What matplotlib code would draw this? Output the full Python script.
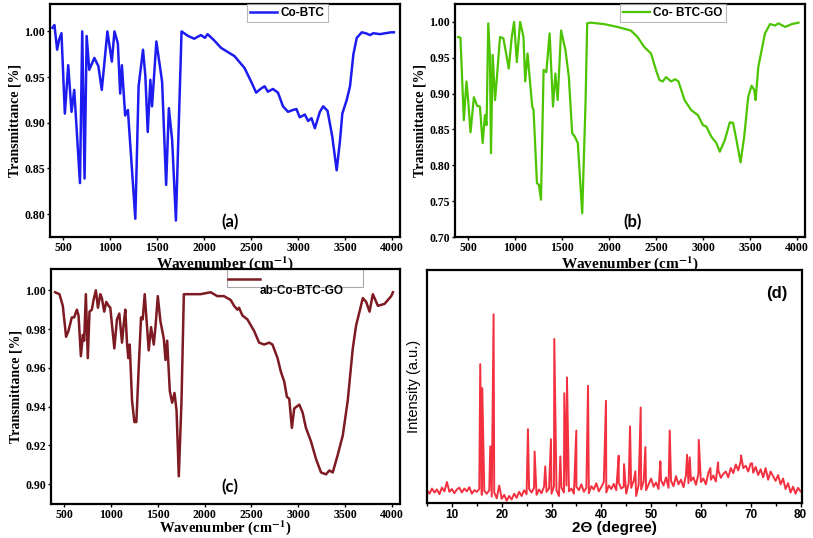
import numpy as np
import matplotlib
matplotlib.use("Agg")
import matplotlib.pyplot as plt
from matplotlib.patches import Rectangle

# FTIR (a) Co-BTC
co_btc_wn = [386, 407, 436, 457, 482, 518, 554, 589, 618, 643, 679, 703, 728, 750, 778, 832,
             875, 911, 971, 1018, 1046, 1082, 1107, 1125, 1160, 1189, 1268, 1303, 1350, 1375,
             1400, 1428, 1446, 1492, 1553, 1596, 1625, 1660, 1700, 1760, 1830, 1895, 1966, 2009,
             2037, 2109, 2180, 2323, 2430, 2501, 2554, 2600, 2644, 2679, 2733, 2786, 2840, 2893,
             2945, 2983, 3018, 3072, 3107, 3143, 3179, 3232, 3268, 3314, 3364, 3411, 3446, 3471,
             3518, 3553, 3589, 3625, 3678, 3720, 3767, 3800, 3874, 3928, 3990, 4020]
co_btc_t = [1.004, 1.007, 0.980, 0.991, 0.998, 0.910, 0.963, 0.912, 0.936, 0.894, 0.834, 1.000,
            0.839, 0.995, 0.958, 0.971, 0.962, 0.936, 1.000, 0.967, 1.000, 0.987, 0.932, 0.963,
            0.908, 0.914, 0.795, 0.940, 0.980, 0.951, 0.890, 0.947, 0.918, 0.989, 0.945, 0.832,
            0.916, 0.881, 0.793, 1.000, 0.995, 0.992, 0.996, 0.993, 0.997, 0.990, 0.982, 0.973,
            0.960, 0.945, 0.933, 0.937, 0.940, 0.934, 0.937, 0.933, 0.918, 0.912, 0.914, 0.915,
            0.906, 0.909, 0.902, 0.905, 0.894, 0.912, 0.918, 0.913, 0.885, 0.848, 0.880, 0.910,
            0.925, 0.940, 0.975, 0.993, 0.999, 0.998, 0.996, 0.998, 0.997, 0.998, 0.999, 0.999]

# FTIR (b) Co-BTC-GO
co_btc_go_wn = [393, 418, 454, 482, 500, 525, 561, 596, 625, 654, 679, 696, 714, 732, 743, 761,
                786, 804, 839, 875, 911, 932, 964, 989, 1018, 1053, 1089, 1107, 1132, 1160, 1182,
                1196, 1232, 1253, 1275, 1303, 1332, 1367, 1403, 1428, 1453, 1489, 1535, 1571,
                1607, 1635, 1667, 1714, 1750, 1767, 1803, 1946, 2089, 2231, 2303, 2374, 2446,
                2499, 2535, 2571, 2606, 2660, 2703, 2738, 2803, 2874, 2945, 2999, 3035, 3088,
                3142, 3178, 3231, 3285, 3320, 3356, 3399, 3438, 3481, 3517, 3545, 3559, 3588,
                3624, 3659, 3713, 3767, 3802, 3874, 3945, 4016]
co_btc_go_t = [0.979, 0.978, 0.863, 0.917, 0.891, 0.846, 0.895, 0.883, 0.882, 0.831, 0.870, 0.856,
               0.998, 0.951, 0.817, 0.954, 0.891, 0.919, 0.979, 0.977, 0.951, 0.935, 0.979, 1.000,
               0.944, 1.000, 0.979, 0.917, 0.956, 0.914, 0.882, 0.877, 0.775, 0.773, 0.752, 0.933,
               0.930, 0.984, 0.882, 0.928, 0.891, 0.988, 0.961, 0.924, 0.845, 0.840, 0.831, 0.733,
               0.891, 0.998, 0.999, 0.997, 0.993, 0.988, 0.979, 0.965, 0.956, 0.933, 0.919, 0.917,
               0.923, 0.917, 0.920, 0.917, 0.891, 0.877, 0.870, 0.856, 0.854, 0.840, 0.831, 0.819,
               0.835, 0.860, 0.859, 0.835, 0.804, 0.840, 0.896, 0.911, 0.905, 0.891, 0.937, 0.961,
               0.984, 0.997, 0.995, 0.998, 0.993, 0.997, 0.999]

# FTIR (c) ab-Co-BTC-GO
ab_wn = [404, 450, 486, 521, 546, 582, 607, 636, 654, 679, 700, 714, 732, 753, 771, 796, 814,
         839, 861, 886, 903, 928, 950, 975, 993, 1036, 1064, 1089, 1118, 1135, 1153, 1171, 1185,
         1200, 1225, 1250, 1271, 1296, 1321, 1339, 1360, 1378, 1403, 1428, 1457, 1475, 1500,
         1528, 1564, 1582, 1600, 1628, 1653, 1678, 1700, 1724, 1753, 1778, 1796, 1867, 1957,
         2064, 2135, 2206, 2278, 2314, 2349, 2367, 2403, 2456, 2528, 2581, 2635, 2688, 2724,
         2778, 2813, 2849, 2878, 2903, 2931, 2956, 3010, 3045, 3081, 3135, 3188, 3242, 3295,
         3331, 3367, 3420, 3474, 3527, 3581, 3617, 3653, 3688, 3724, 3760, 3795, 3849, 3920,
         3991, 4010]
ab_t = [0.999, 0.998, 0.992, 0.976, 0.979, 0.986, 0.986, 0.990, 0.987, 0.966, 0.977, 0.974,
        0.998, 0.965, 0.989, 0.990, 0.995, 1.000, 0.991, 0.998, 0.996, 0.989, 0.994, 0.992,
        0.991, 0.970, 0.985, 0.988, 0.973, 0.982, 0.990, 0.973, 0.965, 0.972, 0.943, 0.932,
        0.932, 0.960, 0.986, 0.985, 0.998, 0.986, 0.969, 0.981, 0.972, 0.981, 0.997, 0.984,
        0.975, 0.964, 0.974, 0.948, 0.942, 0.947, 0.938, 0.904, 0.943, 0.998, 0.998, 0.998,
        0.998, 0.999, 0.997, 0.997, 0.995, 0.992, 0.990, 0.991, 0.987, 0.985, 0.979, 0.973,
        0.972, 0.973, 0.972, 0.965, 0.958, 0.953, 0.945, 0.944, 0.929, 0.939, 0.941, 0.937,
        0.929, 0.922, 0.913, 0.906, 0.905, 0.907, 0.906, 0.915, 0.925, 0.943, 0.970, 0.982,
        0.989, 0.996, 0.994, 0.989, 0.998, 0.992, 0.993, 0.997, 0.999]

# XRD (d): noisy background every 0.5 deg from 5 to 80, plus sharp reflections
xrd_bg_start = 5.0
xrd_bg_step = 0.5
xrd_bg = [55, 40, 62, 45, 58, 38, 66, 50, 90, 48,
          60, 42, 58, 66, 45, 62, 50, 68, 40, 55,
          48, 60, 35, 52, 40, 55, 28, 45, 20, 75,
          18, 35, 10, 30, 15, 40, 22, 48, 30, 55,
          38, 60, 45, 65, 35, 58, 42, 70, 48, 62,
          40, 72, 55, 30, 66, 45, 75, 50, 62, 40,
          70, 55, 80, 48, 65, 42, 72, 58, 85, 50,
          68, 90, 45, 75, 60, 82, 55, 88, 62, 70,
          40, 85, 65, 95, 30, 78, 58, 92, 55, 80,
          105, 70, 88, 60, 98, 75, 110, 65, 95, 72,
          115, 80, 100, 68, 120, 85, 95, 110, 78, 125,
          90, 105, 80, 130, 100, 118, 92, 140, 108, 125,
          135, 110, 150, 128, 165, 140, 180, 150, 160, 135,
          170, 130, 155, 120, 145, 110, 150, 100, 135, 115,
          95, 120, 80, 105, 60, 85, 45, 70, 40, 65,
          50]
xrd_peak_pos = [15.69, 16.1, 17.7, 18.37, 25.27, 26.61, 28.75, 29.89, 30.56, 31.77, 32.57,
                33.11, 34.98, 37.33, 40.94, 43.49, 44.56, 45.77, 46.84, 47.91, 48.85, 51.86,
                53.74, 57.22, 57.76, 59.57, 61.91, 63.45, 68.07, 70.28]
xrd_peak_int = [596, 493, 243, 810, 317, 221, 157, 274, 704, 200, 471,
                539, 311, 503, 439, 203, 167, 329, 136, 410, 240, 179,
                311, 207, 196, 271, 150, 174, 204, 170]

serif = "Liberation Serif"
sans = "Liberation Sans"
plt.rcParams["mathtext.fontset"] = "stix"


def ftir_panel(ax, wn, t, color, yticks, ylim, tag, lw=1.8, xl_size=11, xl_y=-0.112):
    ax.plot(wn, t, color=color, linewidth=lw)
    ax.set_xlim(360, 4085)
    ax.set_ylim(*ylim)
    ax.set_xticks([500, 1000, 1500, 2000, 2500, 3000, 3500, 4000])
    ax.set_yticks(yticks)
    ax.set_yticklabels(["%.2f" % v for v in yticks])
    for lab in ax.get_xticklabels() + ax.get_yticklabels():
        lab.set_fontfamily(serif)
        lab.set_fontweight("bold")
        lab.set_fontsize(8.5)
    ax.tick_params(direction="out", length=2.5, width=1, pad=1)
    for s in ax.spines.values():
        s.set_linewidth(1.6)
    ax.set_xlabel(r"Wavenumber (cm$^{\mathbf{-1}}$)", fontfamily=serif, fontweight="bold",
                  fontsize=xl_size, va="center")
    ax.xaxis.set_label_coords(0.5, xl_y)
    ax.set_ylabel("Transmittance [%]", fontfamily=serif, fontweight="bold", fontsize=10,
                  labelpad=2)
    ax.text(tag[1], tag[2], tag[0], transform=ax.transAxes, fontfamily="Lato",
            fontweight="bold", fontsize=12, ha="center", va="center")


fig = plt.figure(figsize=(8.13, 5.38), dpi=100)
W, H = 813, 538

ax_a = fig.add_axes([50 / W, 1 - 237 / H, 350 / W, 233 / H])
ax_b = fig.add_axes([455 / W, 1 - 237 / H, 350 / W, 233 / H])
ax_c = fig.add_axes([51 / W, 1 - 504 / H, 349 / W, 235 / H])
ax_d = fig.add_axes([427 / W, 1 - 503 / H, 375 / W, 233 / H])

ftir_panel(ax_a, co_btc_wn, co_btc_t, "#1c1cf0", [0.80, 0.85, 0.90, 0.95, 1.00],
           (0.775, 1.03), ("(a)", 0.514, 0.064))
ftir_panel(ax_b, co_btc_go_wn, co_btc_go_t, "#4cc400", [0.70, 0.75, 0.80, 0.85, 0.90, 0.95, 1.00],
           (0.70, 1.025), ("(b)", 0.506, 0.064), lw=1.6)
ftir_panel(ax_c, ab_wn, ab_t, "#7d1a22", [0.90, 0.92, 0.94, 0.96, 0.98, 1.00],
           (0.8897, 1.011), ("(c)", 0.513, 0.072), xl_size=10.5, xl_y=-0.1)

# legends
leg_kw = dict(frameon=True, fancybox=False, edgecolor="#a8a8a8", borderpad=0.25,
              handlelength=2.3, handletextpad=0.3, borderaxespad=0,
              prop={"family": sans, "weight": "bold", "size": 8.5})
ax_a.legend(["Co-BTC"], loc="upper left", bbox_to_anchor=(0.563, 1.0), **leg_kw).get_frame().set_linewidth(0.8)
ax_b.legend(["Co- BTC-GO"], loc="upper left", bbox_to_anchor=(0.471, 1.0), **leg_kw).get_frame().set_linewidth(0.8)

# (c) legend: line in a box, text underneath
ax_c.add_patch(Rectangle((0.504, 0.923), 0.39, 0.077, transform=ax_c.transAxes,
                         fill=False, edgecolor="#a8a8a8", linewidth=0.8))
ax_c.legend([ax_c.lines[0]], [""], loc="center left", bbox_to_anchor=(0.49, 0.953),
            frameon=False, handlelength=2.3, borderaxespad=0, handletextpad=0)
ax_c.text(0.599, 0.906, "ab-Co-BTC-GO", transform=ax_c.transAxes, fontfamily=sans,
          fontweight="bold", fontsize=8.5, ha="left", va="center")

# (d) XRD
bg_x = xrd_bg_start + xrd_bg_step * np.arange(len(xrd_bg))
tt = np.concatenate([bg_x, xrd_peak_pos])
inten = np.concatenate([xrd_bg, xrd_peak_int])
order = np.argsort(tt)
ax_d.plot(tt[order], inten[order], color="#f2303f", linewidth=1.4)
ax_d.set_xlim(5, 80.3)
ax_d.set_ylim(0, 1000)
ax_d.set_yticks([])
ax_d.set_xticks([10, 20, 30, 40, 50, 60, 70, 80])
ax_d.set_xticks([5, 15, 25, 35, 45, 55, 65, 75], minor=True)
for lab in ax_d.get_xticklabels():
    lab.set_fontfamily(sans)
    lab.set_fontweight("bold")
    lab.set_fontsize(8.5)
ax_d.tick_params(direction="out", length=3, width=1, pad=1.5)
ax_d.tick_params(which="minor", direction="out", length=2, width=1)
for s in ax_d.spines.values():
    s.set_linewidth(1.6)
ax_d.set_xlabel("2\u0398 (degree)", fontfamily=sans, fontweight="bold", fontsize=11, labelpad=0)
ax_d.set_ylabel("Intensity (a.u.)", fontfamily=sans, fontsize=10.5, labelpad=4)
ax_d.text(0.933, 0.901, "(d)", transform=ax_d.transAxes, fontfamily=sans, fontweight="bold",
          fontsize=12, ha="center", va="center")

plt.savefig("out.png", dpi=100)
plt.close()
